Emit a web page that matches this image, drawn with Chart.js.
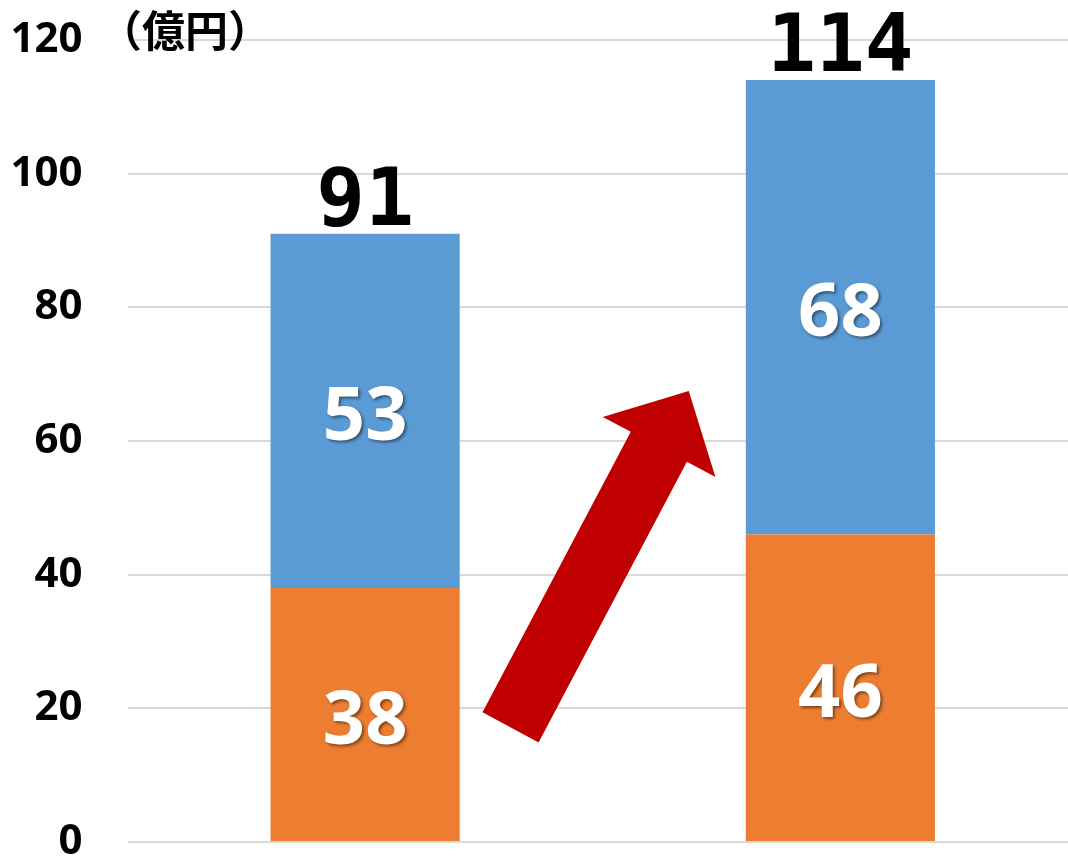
<!DOCTYPE html>
<html><head><meta charset="utf-8">
<script src="https://cdn.jsdelivr.net/npm/chart.js@4/dist/chart.umd.min.js"></script>
<style>
html,body{margin:0;padding:0;background:#fff;overflow:hidden;}
#wrap{width:1078px;height:858px;position:relative;}
</style></head>
<body><div id="wrap"><canvas id="c" width="1078" height="858"></canvas></div>
<script>
const categories = ['A', 'B'];
const lowerValues = [38, 46];
const upperValues = [53, 68];
const totals = [91, 114];
const yTicks = [0, 20, 40, 60, 80, 100, 120];
const unitLabel = '（億円）';
// arrow outline in data space (x: category index, y: value)
const arrowX = [0.247, 0.365, 0.677, 0.737, 0.681, 0.500, 0.559];
const arrowY = [19.4, 14.9, 56.9, 54.6, 67.5, 63.6, 61.4];

const numFont = '"Noto Sans", "Open Sans", sans-serif';

const labelsPlugin = {
  id: 'labels',
  afterDatasetsDraw(chart) {
    const ctx = chart.ctx;
    const xs = chart.scales.x, ys = chart.scales.y;
    // arrow
    ctx.save();
    ctx.fillStyle = '#C00000';
    ctx.beginPath();
    arrowX.forEach((v, i) => {
      const px = xs.getPixelForValue(v), py = ys.getPixelForValue(arrowY[i]);
      if (i === 0) ctx.moveTo(px, py); else ctx.lineTo(px, py);
    });
    ctx.closePath();
    ctx.fill();
    ctx.restore();
    // segment labels
    ctx.save();
    ctx.textAlign = 'center';
    ctx.textBaseline = 'middle';
    ctx.font = 'bold 74px ' + numFont;
    ctx.fillStyle = '#ffffff';
    ctx.shadowColor = 'rgba(0,0,0,0.45)';
    ctx.shadowOffsetX = 2; ctx.shadowOffsetY = 2; ctx.shadowBlur = 3;
    chart.data.datasets.forEach((ds, di) => {
      const meta = chart.getDatasetMeta(di);
      meta.data.forEach((bar, i) => {
        const cy = (bar.y + bar.base) / 2 + 8;
        ctx.fillText(String(ds.data[i]), bar.x, cy);
      });
    });
    ctx.restore();
    // totals
    ctx.save();
    ctx.textAlign = 'center';
    ctx.textBaseline = 'alphabetic';
    ctx.font = 'bold 81px "DejaVu Sans Mono", monospace';
    ctx.fillStyle = '#000';
    totals.forEach((t, i) => {
      const px = xs.getPixelForValue(i), py = ys.getPixelForValue(t);
      ctx.fillText(String(t), px, py - 9);
    });
    ctx.restore();
    // unit label
    ctx.save();
    ctx.textAlign = 'center';
    ctx.textBaseline = 'middle';
    ctx.font = 'bold 43px "Noto Sans CJK JP", sans-serif';
    ctx.fillStyle = '#000';
    ctx.fillText(unitLabel, 185, ys.getPixelForValue(120) - 9);
    ctx.restore();
  }
};

new Chart(document.getElementById('c'), {
  type: 'bar',
  data: {
    labels: categories,
    datasets: [
      { label: 'lower', data: lowerValues, backgroundColor: '#ED7D31', borderWidth: 0 },
      { label: 'upper', data: upperValues, backgroundColor: '#5B9BD5', borderWidth: 0 }
    ]
  },
  options: {
    responsive: false,
    animation: false,
    devicePixelRatio: 1,
    layout: { padding: { top: 40, bottom: 16, left: 0, right: 0 } },
    plugins: { legend: { display: false }, tooltip: { enabled: false } },
    datasets: { bar: { categoryPercentage: 1, barPercentage: 0.398 } },
    scales: {
      x: { stacked: true, display: false },
      y: {
        stacked: true, min: 0, max: 120,
        afterBuildTicks(axis) { axis.ticks = yTicks.map(v => ({ value: v })); },
        afterFit(axis) { axis.width = 127.5; axis.paddingTop = 0; axis.paddingBottom = 0; },
        border: { display: false },
        grid: { color: '#d9d9d9', lineWidth: 2, drawTicks: false },
        ticks: { padding: 45, color: '#000', font: { family: numFont, size: 42, weight: 'bold' } }
      }
    }
  },
  plugins: [labelsPlugin]
});
</script></body></html>
